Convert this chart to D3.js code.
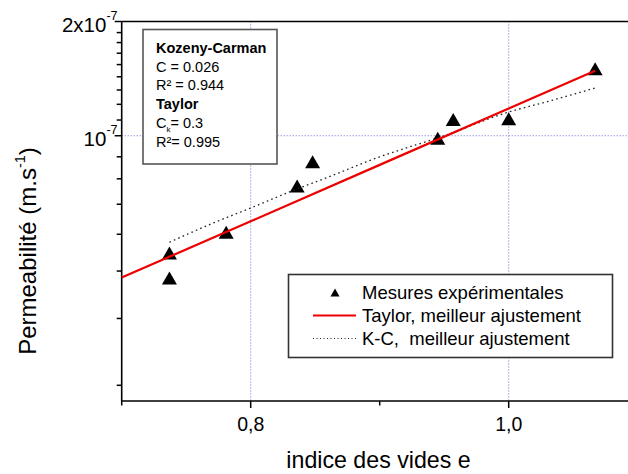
<!DOCTYPE html>
<html>
<head>
<meta charset="utf-8">
<script src="https://cdn.jsdelivr.net/npm/d3@7"></script>
<style>
  html, body { margin: 0; padding: 0; background: #fff; }
  svg { display: block; font-family: "Liberation Sans", Arial, sans-serif; }
</style>
</head>
<body>
<svg id="chart" width="628" height="474"></svg>
<script>
// ---- data ----
const voidRatio    = [0.737, 0.737, 0.781, 0.836, 0.848, 0.945, 0.957, 1.000, 1.067];
const permeability = [4.91e-8, 4.22e-8, 5.57e-8, 7.37e-8, 8.54e-8, 9.85e-8, 1.104e-7, 1.109e-7, 1.501e-7];

const taylorE = [0.70, 0.80, 0.90, 1.00, 1.067];
const taylorK = [4.23e-8, 5.95e-8, 8.38e-8, 1.18e-7, 1.484e-7];

const kcE = [0.737, 0.77, 0.80, 0.83, 0.86, 0.90, 0.95, 1.00, 1.03, 1.067];
const kcK = [5.24e-8, 5.87e-8, 6.45e-8, 7.11e-8, 7.78e-8, 8.8e-8, 1.0e-7, 1.155e-7, 1.23e-7, 1.336e-7];

const xMajorTicks = [0.8, 1.0];
const xMajorLabels = ["0,8", "1,0"];
const xMinorTicks = [0.7, 0.9, 1.1];

const yMajorTicks = [1e-7, 2e-7];
const yMajorBase = ["10", "2x10"];
const yMajorExp = ["-7", "-7"];
const yMinorTicks = [2.2e-8, 3.3e-8, 4.4e-8, 5.5e-8, 6.6e-8, 7.7e-8, 8.8e-8,
                     1.1e-7, 1.21e-7, 1.32e-7, 1.43e-7, 1.54e-7, 1.65e-7, 1.76e-7, 1.87e-7];

const boxTitleKC = "Kozeny-Carman";
const boxKC = ["C = 0.026", "R² = 0.944"];
const boxTitleT = "Taylor";
const boxT_C = ["C", "k", "= 0.3"];
const boxT_R = "R²= 0.995";

const legendLabels = ["Mesures expérimentales", "Taylor, meilleur ajustement", "K-C,  meilleur ajustement"];
const xTitle = "indice des vides e";

// ---- layout ----
const L = 121.7, T = 21.5, B = 401;
const svg = d3.select("#chart");
const x = d3.scaleLinear().domain([0.7, 1.1]).range([L, L + 516]);
const y = d3.scaleLog().domain([2e-8, 2e-7]).range([B, T]);
const gridColor = "#6a6ad8";

// grid
const grid = svg.append("g");
grid.selectAll("line.gx").data(xMajorTicks).enter().append("line")
  .attr("x1", d => x(d)).attr("x2", d => x(d)).attr("y1", T).attr("y2", B)
  .attr("stroke", gridColor).attr("stroke-width", 1).attr("stroke-dasharray", "1,2");
grid.append("line")
  .attr("x1", L).attr("x2", 628).attr("y1", y(1e-7)).attr("y2", y(1e-7))
  .attr("stroke", gridColor).attr("stroke-width", 1).attr("stroke-dasharray", "1,2");

// axes frame
svg.append("line").attr("x1", L).attr("x2", 628).attr("y1", T).attr("y2", T)
  .attr("stroke", "#000").attr("stroke-width", 1.6);
svg.append("line").attr("x1", L).attr("x2", 628).attr("y1", B).attr("y2", B)
  .attr("stroke", "#000").attr("stroke-width", 1.6);
svg.append("line").attr("x1", L).attr("x2", L).attr("y1", T).attr("y2", B)
  .attr("stroke", "#000").attr("stroke-width", 1.6);

// x ticks
svg.selectAll("line.xM").data(xMajorTicks).enter().append("line")
  .attr("x1", d => x(d)).attr("x2", d => x(d)).attr("y1", B).attr("y2", B + 7)
  .attr("stroke", "#000").attr("stroke-width", 1.5);
svg.selectAll("line.xm").data(xMinorTicks).enter().append("line")
  .attr("x1", d => x(d)).attr("x2", d => x(d)).attr("y1", B).attr("y2", B + 4.5)
  .attr("stroke", "#000").attr("stroke-width", 1.5);
svg.selectAll("text.xl").data(xMajorTicks).enter().append("text")
  .attr("x", d => x(d)).attr("y", B + 30).attr("text-anchor", "middle")
  .attr("font-size", 19.5).attr("fill", "#000")
  .text((d, i) => xMajorLabels[i]);

// y ticks
svg.selectAll("line.yM").data(yMajorTicks).enter().append("line")
  .attr("x1", L - 7).attr("x2", L).attr("y1", d => y(d)).attr("y2", d => y(d))
  .attr("stroke", "#000").attr("stroke-width", 1.5);
svg.selectAll("line.ym").data(yMinorTicks).enter().append("line")
  .attr("x1", L - 5).attr("x2", L).attr("y1", d => y(d)).attr("y2", d => y(d))
  .attr("stroke", "#000").attr("stroke-width", 1.5);
const yl = svg.selectAll("text.yl").data(yMajorTicks).enter().append("text")
  .attr("x", 117.5).attr("y", d => y(d) + 10).attr("text-anchor", "end")
  .attr("font-size", 20.5).attr("fill", "#000");
yl.append("tspan").text((d, i) => yMajorBase[i]);
yl.append("tspan").attr("font-size", 12.5).attr("dy", -11.5).text((d, i) => yMajorExp[i]);

// axis titles
svg.append("text").attr("x", 378.5).attr("y", 468).attr("text-anchor", "middle")
  .attr("font-size", 23.2).attr("fill", "#000").text(xTitle);
const yt = svg.append("text").attr("transform", "translate(36,251) rotate(-90)")
  .attr("text-anchor", "middle").attr("font-size", 24).attr("fill", "#000");
yt.append("tspan").text("Permeabilité (m.s");
yt.append("tspan").attr("font-size", 14.5).attr("dy", -11.5).text("-1");
yt.append("tspan").attr("dy", 11.5).text(")");

// triangle marker
const tri = (hw, hh) => `M0,${-hh}L${hw},${hh}L${-hw},${hh}Z`;

svg.append("g").selectAll("path").data(voidRatio).enter().append("path")
  .attr("d", tri(7.5, 6.5))
  .attr("transform", (d, i) => `translate(${x(d)},${y(permeability[i])})`)
  .attr("fill", "#000");

// K-C dotted curve
svg.append("path")
  .attr("d", d3.line().x((d, i) => x(d)).y((d, i) => y(kcK[i])).curve(d3.curveMonotoneX)(kcE))
  .attr("fill", "none").attr("stroke", "#222").attr("stroke-width", 1.3)
  .attr("stroke-dasharray", "1.6,3.2");

// Taylor red line
svg.append("path")
  .attr("d", d3.line().x(d => x(d)).y((d, i) => y(taylorK[i]))(taylorE))
  .attr("fill", "none").attr("stroke", "#ee0000").attr("stroke-width", 2.2);

// info box
svg.append("rect").attr("x", 143).attr("y", 29.5).attr("width", 134).attr("height", 134.5)
  .attr("fill", "#fff").attr("stroke", "#555").attr("stroke-width", 1.6);
const bx = 156, bf = 14.5;
svg.append("text").attr("x", bx).attr("y", 52.5).attr("font-size", bf).attr("font-weight", "bold").text(boxTitleKC);
svg.append("text").attr("x", bx).attr("y", 71.5).attr("font-size", bf).text(boxKC[0]);
svg.append("text").attr("x", bx).attr("y", 90).attr("font-size", bf).text(boxKC[1]);
svg.append("text").attr("x", bx).attr("y", 108.5).attr("font-size", bf).attr("font-weight", "bold").text(boxTitleT);
const ck = svg.append("text").attr("x", bx).attr("y", 127.5).attr("font-size", bf);
ck.append("tspan").text(boxT_C[0]);
ck.append("tspan").attr("font-size", 8).attr("dy", 4).text(boxT_C[1]);
ck.append("tspan").attr("dy", -4).text(boxT_C[2]);
svg.append("text").attr("x", bx).attr("y", 146.5).attr("font-size", bf).text(boxT_R);

// legend
svg.append("rect").attr("x", 288.5).attr("y", 274.5).attr("width", 324).attr("height", 83)
  .attr("fill", "#fff").attr("stroke", "#333").attr("stroke-width", 1.6);
const lx = 362, lf = 18.5;
const rowsY = [299, 322, 345];
svg.append("path").attr("d", tri(4.5, 4)).attr("transform", `translate(335,${rowsY[0] - 6.5})`).attr("fill", "#000");
svg.append("line").attr("x1", 313).attr("x2", 356).attr("y1", rowsY[1] - 6.5).attr("y2", rowsY[1] - 6.5)
  .attr("stroke", "#ee0000").attr("stroke-width", 2.2);
svg.append("line").attr("x1", 313).attr("x2", 356).attr("y1", rowsY[2] - 6.5).attr("y2", rowsY[2] - 6.5)
  .attr("stroke", "#222").attr("stroke-width", 1).attr("stroke-dasharray", "1,2.5");
svg.selectAll("text.lg").data(legendLabels).enter().append("text")
  .attr("x", lx).attr("y", (d, i) => rowsY[i]).attr("font-size", lf).attr("fill", "#000")
  .style("white-space", "pre").attr("xml:space", "preserve")
  .text(d => d);
</script>
</body>
</html>
